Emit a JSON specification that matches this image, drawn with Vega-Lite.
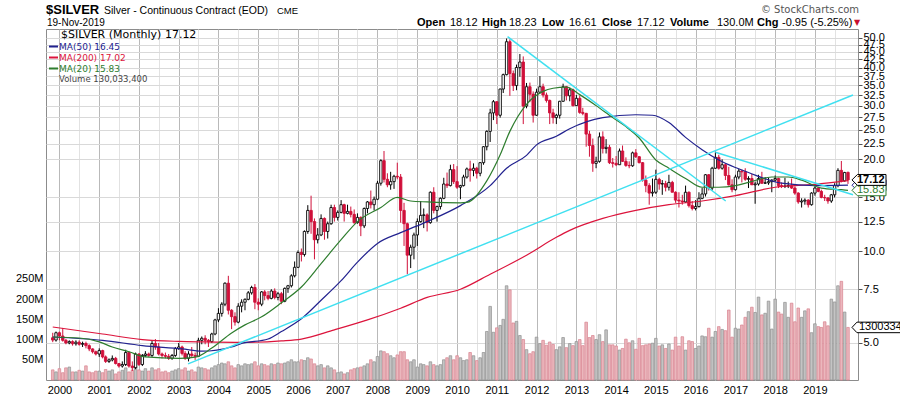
{
"$schema":"https://vega.github.io/schema/vega-lite/v6.json",
"width":812,"height":351,"autosize":{"type":"none"},
"padding":{"left":46,"top":29,"right":42,"bottom":16},
"background":"white",
"config":{"view":{"stroke":"#8c8c8c","strokeWidth":1},"font":"Liberation Sans"},
"datasets":{
"px":[
{"d":"1999-11","o":5.2,"h":5.4,"l":5.03,"c":5.11,"v":25},
{"d":"1999-12","o":5.11,"h":5.45,"l":5.05,"c":5.4,"v":20},
{"d":"2000-01","o":5.4,"h":5.45,"l":5.1,"c":5.27,"v":28},
{"d":"2000-02","o":5.27,"h":5.6,"l":5.05,"c":5.1,"v":18},
{"d":"2000-03","o":5.1,"h":5.15,"l":4.95,"c":5.0,"v":30},
{"d":"2000-04","o":5.0,"h":5.1,"l":4.95,"c":5.05,"v":32},
{"d":"2000-05","o":5.05,"h":5.1,"l":4.9,"c":4.97,"v":20},
{"d":"2000-06","o":4.97,"h":5.1,"l":4.9,"c":5.03,"v":20},
{"d":"2000-07","o":5.03,"h":5.1,"l":4.9,"c":4.95,"v":24},
{"d":"2000-08","o":4.95,"h":5.05,"l":4.85,"c":4.98,"v":22},
{"d":"2000-09","o":4.98,"h":5.05,"l":4.8,"c":4.9,"v":35},
{"d":"2000-10","o":4.9,"h":4.95,"l":4.7,"c":4.78,"v":20},
{"d":"2000-11","o":4.78,"h":4.8,"l":4.62,"c":4.68,"v":18},
{"d":"2000-12","o":4.68,"h":4.72,"l":4.55,"c":4.6,"v":22},
{"d":"2001-01","o":4.6,"h":4.8,"l":4.5,"c":4.72,"v":22},
{"d":"2001-02","o":4.72,"h":4.75,"l":4.45,"c":4.5,"v":18},
{"d":"2001-03","o":4.5,"h":4.55,"l":4.3,"c":4.35,"v":26},
{"d":"2001-04","o":4.35,"h":4.45,"l":4.3,"c":4.4,"v":22},
{"d":"2001-05","o":4.4,"h":4.55,"l":4.35,"c":4.45,"v":25},
{"d":"2001-06","o":4.45,"h":4.5,"l":4.25,"c":4.28,"v":15},
{"d":"2001-07","o":4.28,"h":4.3,"l":4.15,"c":4.2,"v":20},
{"d":"2001-08","o":4.2,"h":4.35,"l":4.15,"c":4.25,"v":24},
{"d":"2001-09","o":4.25,"h":4.75,"l":4.2,"c":4.65,"v":30},
{"d":"2001-10","o":4.65,"h":4.7,"l":4.15,"c":4.2,"v":20},
{"d":"2001-11","o":4.2,"h":4.35,"l":4.05,"c":4.15,"v":24},
{"d":"2001-12","o":4.15,"h":4.65,"l":4.1,"c":4.6,"v":32},
{"d":"2002-01","o":4.6,"h":4.62,"l":4.2,"c":4.25,"v":25},
{"d":"2002-02","o":4.25,"h":4.6,"l":4.2,"c":4.55,"v":22},
{"d":"2002-03","o":4.55,"h":4.7,"l":4.5,"c":4.6,"v":28},
{"d":"2002-04","o":4.6,"h":4.65,"l":4.5,"c":4.55,"v":22},
{"d":"2002-05","o":4.55,"h":5.1,"l":4.5,"c":4.98,"v":30},
{"d":"2002-06","o":4.98,"h":5.15,"l":4.75,"c":4.85,"v":25},
{"d":"2002-07","o":4.85,"h":5.0,"l":4.55,"c":4.6,"v":28},
{"d":"2002-08","o":4.6,"h":4.65,"l":4.45,"c":4.55,"v":20},
{"d":"2002-09","o":4.55,"h":4.65,"l":4.45,"c":4.52,"v":22},
{"d":"2002-10","o":4.52,"h":4.6,"l":4.4,"c":4.45,"v":18},
{"d":"2002-11","o":4.45,"h":4.6,"l":4.4,"c":4.55,"v":22},
{"d":"2002-12","o":4.55,"h":4.85,"l":4.5,"c":4.79,"v":25},
{"d":"2003-01","o":4.79,"h":5.0,"l":4.75,"c":4.85,"v":28},
{"d":"2003-02","o":4.85,"h":4.9,"l":4.55,"c":4.62,"v":25},
{"d":"2003-03","o":4.62,"h":4.7,"l":4.4,"c":4.45,"v":30},
{"d":"2003-04","o":4.45,"h":4.7,"l":4.35,"c":4.6,"v":22},
{"d":"2003-05","o":4.6,"h":4.85,"l":4.5,"c":4.55,"v":25},
{"d":"2003-06","o":4.55,"h":4.65,"l":4.4,"c":4.52,"v":20},
{"d":"2003-07","o":4.52,"h":5.2,"l":4.5,"c":5.1,"v":32},
{"d":"2003-08","o":5.1,"h":5.25,"l":4.95,"c":5.18,"v":30},
{"d":"2003-09","o":5.18,"h":5.3,"l":4.95,"c":5.1,"v":28},
{"d":"2003-10","o":5.1,"h":5.15,"l":4.85,"c":5.05,"v":25},
{"d":"2003-11","o":5.05,"h":5.4,"l":5.0,"c":5.35,"v":30},
{"d":"2003-12","o":5.35,"h":6.0,"l":5.3,"c":5.95,"v":35},
{"d":"2004-01","o":5.95,"h":6.5,"l":5.85,"c":6.25,"v":38},
{"d":"2004-02","o":6.25,"h":6.8,"l":6.1,"c":6.7,"v":42},
{"d":"2004-03","o":6.7,"h":7.9,"l":6.6,"c":7.85,"v":40},
{"d":"2004-04","o":7.85,"h":8.3,"l":6.2,"c":6.4,"v":45},
{"d":"2004-05","o":6.4,"h":6.45,"l":5.55,"c":6.1,"v":35},
{"d":"2004-06","o":6.1,"h":6.3,"l":5.7,"c":5.85,"v":30},
{"d":"2004-07","o":5.85,"h":6.75,"l":5.8,"c":6.6,"v":38},
{"d":"2004-08","o":6.6,"h":6.95,"l":6.3,"c":6.8,"v":35},
{"d":"2004-09","o":6.8,"h":7.0,"l":6.4,"c":6.95,"v":40},
{"d":"2004-10","o":6.95,"h":7.4,"l":6.9,"c":7.3,"v":38},
{"d":"2004-11","o":7.3,"h":7.7,"l":7.2,"c":7.6,"v":40},
{"d":"2004-12","o":7.6,"h":7.8,"l":6.45,"c":6.8,"v":45},
{"d":"2005-01","o":6.8,"h":7.0,"l":6.4,"c":6.7,"v":35},
{"d":"2005-02","o":6.7,"h":7.4,"l":6.6,"c":7.35,"v":40},
{"d":"2005-03","o":7.35,"h":7.45,"l":6.9,"c":7.15,"v":38},
{"d":"2005-04","o":7.15,"h":7.4,"l":6.9,"c":7.0,"v":35},
{"d":"2005-05","o":7.0,"h":7.5,"l":6.95,"c":7.4,"v":40},
{"d":"2005-06","o":7.4,"h":7.55,"l":6.95,"c":7.05,"v":38},
{"d":"2005-07","o":7.05,"h":7.35,"l":6.9,"c":7.25,"v":42},
{"d":"2005-08","o":7.25,"h":7.35,"l":6.7,"c":6.85,"v":40},
{"d":"2005-09","o":6.85,"h":7.6,"l":6.8,"c":7.55,"v":42},
{"d":"2005-10","o":7.55,"h":7.75,"l":7.3,"c":7.7,"v":45},
{"d":"2005-11","o":7.7,"h":8.4,"l":7.6,"c":8.3,"v":50},
{"d":"2005-12","o":8.3,"h":9.25,"l":8.2,"c":8.85,"v":45},
{"d":"2006-01","o":8.85,"h":10.05,"l":8.8,"c":9.9,"v":45},
{"d":"2006-02","o":9.9,"h":10.2,"l":9.25,"c":9.75,"v":50},
{"d":"2006-03","o":9.75,"h":11.7,"l":9.6,"c":11.6,"v":48},
{"d":"2006-04","o":11.6,"h":14.15,"l":11.4,"c":13.6,"v":55},
{"d":"2006-05","o":13.6,"h":15.2,"l":11.4,"c":12.5,"v":52},
{"d":"2006-06","o":12.5,"h":12.8,"l":9.4,"c":10.9,"v":40},
{"d":"2006-07","o":10.9,"h":11.9,"l":10.6,"c":11.3,"v":35},
{"d":"2006-08","o":11.3,"h":13.2,"l":11.2,"c":12.8,"v":38},
{"d":"2006-09","o":12.8,"h":12.9,"l":10.9,"c":11.6,"v":30},
{"d":"2006-10","o":11.6,"h":12.5,"l":11.0,"c":12.3,"v":35},
{"d":"2006-11","o":12.3,"h":14.2,"l":12.2,"c":13.9,"v":30},
{"d":"2006-12","o":13.9,"h":14.2,"l":12.5,"c":12.9,"v":25},
{"d":"2007-01","o":12.9,"h":13.6,"l":12.6,"c":13.4,"v":18},
{"d":"2007-02","o":13.4,"h":14.7,"l":13.3,"c":14.2,"v":20},
{"d":"2007-03","o":14.2,"h":14.3,"l":12.5,"c":13.3,"v":15},
{"d":"2007-04","o":13.3,"h":14.2,"l":13.2,"c":13.5,"v":18},
{"d":"2007-05","o":13.5,"h":14.0,"l":12.9,"c":13.2,"v":25},
{"d":"2007-06","o":13.2,"h":13.7,"l":12.3,"c":12.4,"v":28},
{"d":"2007-07","o":12.4,"h":13.3,"l":12.3,"c":12.9,"v":30},
{"d":"2007-08","o":12.9,"h":13.0,"l":11.2,"c":12.1,"v":32},
{"d":"2007-09","o":12.1,"h":13.9,"l":11.9,"c":13.8,"v":35},
{"d":"2007-10","o":13.8,"h":14.6,"l":13.3,"c":14.5,"v":40},
{"d":"2007-11","o":14.5,"h":15.8,"l":13.8,"c":14.2,"v":50},
{"d":"2007-12","o":14.2,"h":15.1,"l":13.6,"c":14.8,"v":45},
{"d":"2008-01","o":14.8,"h":17.0,"l":14.7,"c":16.7,"v":58},
{"d":"2008-02","o":16.7,"h":20.0,"l":16.4,"c":19.8,"v":72},
{"d":"2008-03","o":19.8,"h":21.3,"l":16.8,"c":17.2,"v":70},
{"d":"2008-04","o":17.2,"h":18.0,"l":16.2,"c":16.5,"v":65},
{"d":"2008-05","o":16.5,"h":18.2,"l":15.9,"c":16.9,"v":60},
{"d":"2008-06","o":16.9,"h":17.8,"l":16.0,"c":17.6,"v":55},
{"d":"2008-07","o":17.6,"h":19.5,"l":17.2,"c":17.5,"v":62},
{"d":"2008-08","o":17.5,"h":17.9,"l":12.4,"c":13.6,"v":70},
{"d":"2008-09","o":13.6,"h":14.4,"l":10.4,"c":12.3,"v":70},
{"d":"2008-10","o":12.3,"h":12.4,"l":8.4,"c":9.7,"v":50},
{"d":"2008-11","o":9.7,"h":10.5,"l":8.8,"c":10.3,"v":45},
{"d":"2008-12","o":10.3,"h":11.5,"l":9.4,"c":11.3,"v":50},
{"d":"2009-01","o":11.3,"h":12.8,"l":10.4,"c":12.5,"v":32},
{"d":"2009-02","o":12.5,"h":14.6,"l":12.4,"c":13.1,"v":40},
{"d":"2009-03","o":13.1,"h":13.8,"l":11.9,"c":13.15,"v":38},
{"d":"2009-04","o":13.15,"h":13.3,"l":11.6,"c":12.4,"v":35},
{"d":"2009-05","o":12.4,"h":15.7,"l":12.3,"c":15.6,"v":45},
{"d":"2009-06","o":15.6,"h":16.2,"l":13.3,"c":13.6,"v":38},
{"d":"2009-07","o":13.6,"h":14.1,"l":12.5,"c":14.0,"v":35},
{"d":"2009-08","o":14.0,"h":15.0,"l":13.7,"c":14.9,"v":38},
{"d":"2009-09","o":14.9,"h":17.4,"l":14.8,"c":16.6,"v":50},
{"d":"2009-10","o":16.6,"h":18.1,"l":16.1,"c":16.4,"v":55},
{"d":"2009-11","o":16.4,"h":19.2,"l":16.3,"c":18.5,"v":60},
{"d":"2009-12","o":18.5,"h":19.3,"l":16.6,"c":16.9,"v":50},
{"d":"2010-01","o":16.9,"h":19.0,"l":16.0,"c":16.2,"v":60},
{"d":"2010-02","o":16.2,"h":16.5,"l":14.8,"c":16.4,"v":55},
{"d":"2010-03","o":16.4,"h":17.8,"l":16.3,"c":17.5,"v":48},
{"d":"2010-04","o":17.5,"h":18.8,"l":17.3,"c":18.6,"v":50},
{"d":"2010-05","o":18.6,"h":19.8,"l":16.9,"c":18.4,"v":68},
{"d":"2010-06","o":18.4,"h":19.4,"l":17.6,"c":18.7,"v":60},
{"d":"2010-07","o":18.7,"h":18.9,"l":17.3,"c":18.0,"v":48},
{"d":"2010-08","o":18.0,"h":19.6,"l":17.6,"c":19.5,"v":55},
{"d":"2010-09","o":19.5,"h":22.1,"l":19.2,"c":22.0,"v":68},
{"d":"2010-10","o":22.0,"h":24.9,"l":21.4,"c":24.7,"v":120},
{"d":"2010-11","o":24.7,"h":29.3,"l":22.8,"c":28.4,"v":182},
{"d":"2010-12","o":28.4,"h":31.3,"l":26.9,"c":30.9,"v":118},
{"d":"2011-01","o":30.9,"h":31.0,"l":26.1,"c":27.9,"v":129},
{"d":"2011-02","o":27.9,"h":34.1,"l":27.4,"c":34.0,"v":135},
{"d":"2011-03","o":34.0,"h":38.2,"l":33.0,"c":37.9,"v":150},
{"d":"2011-04","o":37.9,"h":49.8,"l":37.7,"c":48.6,"v":233},
{"d":"2011-05","o":48.6,"h":49.5,"l":32.3,"c":38.2,"v":223},
{"d":"2011-06","o":38.2,"h":39.1,"l":33.5,"c":34.9,"v":141},
{"d":"2011-07","o":34.9,"h":40.9,"l":33.7,"c":40.0,"v":145},
{"d":"2011-08","o":40.0,"h":44.3,"l":37.3,"c":41.7,"v":110},
{"d":"2011-09","o":41.7,"h":43.5,"l":26.1,"c":29.9,"v":100},
{"d":"2011-10","o":29.9,"h":35.6,"l":29.4,"c":34.6,"v":75},
{"d":"2011-11","o":34.6,"h":35.7,"l":30.8,"c":32.7,"v":65},
{"d":"2011-12","o":32.7,"h":33.4,"l":26.4,"c":27.9,"v":70},
{"d":"2012-01","o":27.9,"h":34.1,"l":27.8,"c":33.2,"v":106},
{"d":"2012-02","o":33.2,"h":37.5,"l":32.9,"c":34.6,"v":90},
{"d":"2012-03","o":34.6,"h":35.4,"l":31.9,"c":32.5,"v":98},
{"d":"2012-04","o":32.5,"h":33.1,"l":30.7,"c":31.2,"v":86},
{"d":"2012-05","o":31.2,"h":31.4,"l":26.1,"c":28.4,"v":94},
{"d":"2012-06","o":28.4,"h":29.3,"l":26.2,"c":27.4,"v":88},
{"d":"2012-07","o":27.4,"h":28.2,"l":26.1,"c":27.9,"v":75},
{"d":"2012-08","o":27.9,"h":31.1,"l":27.2,"c":31.0,"v":82},
{"d":"2012-09","o":31.0,"h":35.4,"l":30.9,"c":34.6,"v":105},
{"d":"2012-10","o":34.6,"h":34.8,"l":31.2,"c":32.3,"v":80},
{"d":"2012-11","o":32.3,"h":34.4,"l":31.0,"c":33.8,"v":90},
{"d":"2012-12","o":33.8,"h":34.1,"l":29.8,"c":30.0,"v":85},
{"d":"2013-01","o":30.0,"h":32.5,"l":29.9,"c":31.7,"v":95},
{"d":"2013-02","o":31.7,"h":32.4,"l":28.2,"c":28.5,"v":100},
{"d":"2013-03","o":28.5,"h":29.5,"l":27.9,"c":28.3,"v":85},
{"d":"2013-04","o":28.3,"h":28.4,"l":22.0,"c":24.2,"v":143},
{"d":"2013-05","o":24.2,"h":24.8,"l":20.4,"c":22.2,"v":105},
{"d":"2013-06","o":22.2,"h":23.4,"l":18.2,"c":19.4,"v":110},
{"d":"2013-07","o":19.4,"h":20.4,"l":18.7,"c":19.7,"v":100},
{"d":"2013-08","o":19.7,"h":24.5,"l":19.5,"c":23.7,"v":112},
{"d":"2013-09","o":23.7,"h":24.7,"l":20.9,"c":21.7,"v":95},
{"d":"2013-10","o":21.7,"h":23.3,"l":20.9,"c":21.9,"v":124},
{"d":"2013-11","o":21.9,"h":22.3,"l":19.3,"c":19.5,"v":87},
{"d":"2013-12","o":19.5,"h":20.2,"l":18.8,"c":19.4,"v":87},
{"d":"2014-01","o":19.4,"h":20.5,"l":19.0,"c":19.2,"v":84},
{"d":"2014-02","o":19.2,"h":21.7,"l":19.2,"c":21.3,"v":74},
{"d":"2014-03","o":21.3,"h":22.2,"l":19.6,"c":19.7,"v":78},
{"d":"2014-04","o":19.7,"h":20.3,"l":18.9,"c":19.1,"v":101},
{"d":"2014-05","o":19.1,"h":19.7,"l":18.7,"c":19.05,"v":92},
{"d":"2014-06","o":19.05,"h":21.2,"l":18.9,"c":21.0,"v":97},
{"d":"2014-07","o":21.0,"h":21.6,"l":20.2,"c":20.4,"v":76},
{"d":"2014-08","o":20.4,"h":20.5,"l":19.4,"c":19.5,"v":103},
{"d":"2014-09","o":19.5,"h":19.6,"l":16.9,"c":17.1,"v":85},
{"d":"2014-10","o":17.1,"h":17.7,"l":15.6,"c":16.4,"v":87},
{"d":"2014-11","o":16.4,"h":16.7,"l":14.2,"c":15.5,"v":89},
{"d":"2014-12","o":15.5,"h":17.3,"l":15.1,"c":15.6,"v":91},
{"d":"2015-01","o":15.6,"h":18.5,"l":15.4,"c":17.2,"v":103},
{"d":"2015-02","o":17.2,"h":17.4,"l":15.9,"c":16.6,"v":84},
{"d":"2015-03","o":16.6,"h":17.1,"l":15.3,"c":16.65,"v":87},
{"d":"2015-04","o":16.65,"h":17.0,"l":15.7,"c":16.2,"v":78},
{"d":"2015-05","o":16.2,"h":17.8,"l":15.8,"c":16.8,"v":89},
{"d":"2015-06","o":16.8,"h":17.0,"l":15.6,"c":15.6,"v":74},
{"d":"2015-07","o":15.6,"h":15.7,"l":14.4,"c":14.7,"v":106},
{"d":"2015-08","o":14.7,"h":15.6,"l":13.9,"c":14.6,"v":84},
{"d":"2015-09","o":14.6,"h":15.3,"l":14.2,"c":14.5,"v":107},
{"d":"2015-10","o":14.5,"h":16.4,"l":14.4,"c":15.6,"v":74},
{"d":"2015-11","o":15.6,"h":15.7,"l":13.9,"c":14.1,"v":97},
{"d":"2015-12","o":14.1,"h":14.6,"l":13.6,"c":13.8,"v":95},
{"d":"2016-01","o":13.8,"h":14.7,"l":13.6,"c":14.0,"v":78},
{"d":"2016-02","o":14.0,"h":15.6,"l":13.9,"c":14.9,"v":84},
{"d":"2016-03","o":14.9,"h":16.1,"l":14.8,"c":15.4,"v":109},
{"d":"2016-04","o":15.4,"h":17.9,"l":15.1,"c":17.8,"v":107},
{"d":"2016-05","o":17.8,"h":17.9,"l":15.8,"c":16.1,"v":128},
{"d":"2016-06","o":16.1,"h":18.9,"l":15.8,"c":18.7,"v":106},
{"d":"2016-07","o":18.7,"h":21.2,"l":18.6,"c":20.3,"v":120},
{"d":"2016-08","o":20.3,"h":20.7,"l":18.5,"c":18.7,"v":132},
{"d":"2016-09","o":18.7,"h":20.0,"l":18.5,"c":19.2,"v":125},
{"d":"2016-10","o":19.2,"h":19.4,"l":17.1,"c":17.7,"v":122},
{"d":"2016-11","o":17.7,"h":18.9,"l":16.4,"c":16.5,"v":173},
{"d":"2016-12","o":16.5,"h":17.2,"l":15.6,"c":15.9,"v":106},
{"d":"2017-01","o":15.9,"h":17.8,"l":15.8,"c":17.5,"v":128},
{"d":"2017-02","o":17.5,"h":18.6,"l":17.2,"c":18.3,"v":126},
{"d":"2017-03","o":18.3,"h":18.5,"l":16.8,"c":18.2,"v":136},
{"d":"2017-04","o":18.2,"h":18.7,"l":17.0,"c":17.2,"v":155},
{"d":"2017-05","o":17.2,"h":17.6,"l":16.1,"c":17.3,"v":169},
{"d":"2017-06","o":17.3,"h":17.9,"l":16.5,"c":16.5,"v":180},
{"d":"2017-07","o":16.5,"h":16.9,"l":14.3,"c":16.6,"v":167},
{"d":"2017-08","o":16.6,"h":17.8,"l":16.4,"c":17.3,"v":205},
{"d":"2017-09","o":17.3,"h":18.2,"l":16.6,"c":16.7,"v":161},
{"d":"2017-10","o":16.7,"h":17.5,"l":16.6,"c":16.75,"v":165},
{"d":"2017-11","o":16.75,"h":17.4,"l":16.5,"c":16.9,"v":195},
{"d":"2017-12","o":16.9,"h":17.2,"l":15.6,"c":17.1,"v":126},
{"d":"2018-01","o":17.1,"h":17.7,"l":16.9,"c":17.3,"v":200},
{"d":"2018-02","o":17.3,"h":17.4,"l":16.1,"c":16.4,"v":168},
{"d":"2018-03","o":16.4,"h":16.8,"l":16.1,"c":16.3,"v":163},
{"d":"2018-04","o":16.3,"h":17.4,"l":16.1,"c":16.35,"v":192},
{"d":"2018-05","o":16.35,"h":16.9,"l":16.1,"c":16.4,"v":155},
{"d":"2018-06","o":16.4,"h":17.3,"l":16.0,"c":16.1,"v":190},
{"d":"2018-07","o":16.1,"h":16.3,"l":15.3,"c":15.5,"v":144},
{"d":"2018-08","o":15.5,"h":15.6,"l":14.3,"c":14.5,"v":178},
{"d":"2018-09","o":14.5,"h":14.9,"l":13.9,"c":14.6,"v":155},
{"d":"2018-10","o":14.6,"h":14.9,"l":14.2,"c":14.7,"v":171},
{"d":"2018-11","o":14.7,"h":14.8,"l":13.9,"c":14.2,"v":176},
{"d":"2018-12","o":14.2,"h":15.6,"l":14.1,"c":15.5,"v":117},
{"d":"2019-01","o":15.5,"h":16.3,"l":15.2,"c":16.1,"v":139},
{"d":"2019-02","o":16.1,"h":16.2,"l":15.6,"c":15.7,"v":132},
{"d":"2019-03","o":15.7,"h":15.9,"l":14.9,"c":15.0,"v":130},
{"d":"2019-04","o":15.0,"h":15.3,"l":14.6,"c":14.95,"v":144},
{"d":"2019-05","o":14.95,"h":15.0,"l":14.3,"c":14.6,"v":134},
{"d":"2019-06","o":14.6,"h":15.4,"l":14.4,"c":15.3,"v":200},
{"d":"2019-07","o":15.3,"h":16.7,"l":15.0,"c":16.4,"v":193},
{"d":"2019-08","o":16.4,"h":18.7,"l":16.2,"c":18.4,"v":233},
{"d":"2019-09","o":18.4,"h":19.75,"l":16.8,"c":17.0,"v":244},
{"d":"2019-10","o":17.0,"h":18.2,"l":16.9,"c":18.1,"v":168},
{"d":"2019-11","o":18.12,"h":18.23,"l":16.61,"c":17.12,"v":130.03}
],
"ma":[
{"d":"1999-11","s":"MA(200)","p":5.64},{"d":"2001-02","s":"MA(200)","p":5.35},{"d":"2002-02","s":"MA(200)","p":5.13},{"d":"2003-01","s":"MA(200)","p":5.06},{"d":"2003-08","s":"MA(200)","p":5.04},{"d":"2004-08","s":"MA(200)","p":5.02},{"d":"2005-08","s":"MA(200)","p":5.08},{"d":"2006-02","s":"MA(200)","p":5.15},{"d":"2006-12","s":"MA(200)","p":5.52},{"d":"2007-10","s":"MA(200)","p":5.95},{"d":"2008-08","s":"MA(200)","p":6.5},{"d":"2009-04","s":"MA(200)","p":7.05},{"d":"2010-02","s":"MA(200)","p":7.5},{"d":"2010-11","s":"MA(200)","p":8.4},{"d":"2011-10","s":"MA(200)","p":9.7},{"d":"2012-07","s":"MA(200)","p":11.1},{"d":"2012-11","s":"MA(200)","p":11.7},{"d":"2013-09","s":"MA(200)","p":12.8},{"d":"2014-07","s":"MA(200)","p":13.6},{"d":"2015-05","s":"MA(200)","p":14.2},{"d":"2016-03","s":"MA(200)","p":14.6},{"d":"2017-01","s":"MA(200)","p":15.2},{"d":"2018-01","s":"MA(200)","p":16.2},{"d":"2019-01","s":"MA(200)","p":16.55},{"d":"2019-11","s":"MA(200)","p":17.02},
{"d":"1999-11","s":"MA(50)","p":5.23},{"d":"2001-02","s":"MA(50)","p":5.1},{"d":"2002-02","s":"MA(50)","p":4.9},{"d":"2003-02","s":"MA(50)","p":4.78},{"d":"2003-08","s":"MA(50)","p":4.7},{"d":"2004-05","s":"MA(50)","p":4.85},{"d":"2004-08","s":"MA(50)","p":4.98},{"d":"2005-04","s":"MA(50)","p":5.15},{"d":"2005-08","s":"MA(50)","p":5.45},{"d":"2006-02","s":"MA(50)","p":6.0},{"d":"2006-08","s":"MA(50)","p":6.9},{"d":"2007-02","s":"MA(50)","p":8.0},{"d":"2007-07","s":"MA(50)","p":9.2},{"d":"2008-01","s":"MA(50)","p":10.6},{"d":"2008-08","s":"MA(50)","p":11.5},{"d":"2009-04","s":"MA(50)","p":12.5},{"d":"2010-02","s":"MA(50)","p":14.1},{"d":"2010-11","s":"MA(50)","p":16.4},{"d":"2011-04","s":"MA(50)","p":18.7},{"d":"2011-10","s":"MA(50)","p":20.6},{"d":"2012-01","s":"MA(50)","p":22.3},{"d":"2012-07","s":"MA(50)","p":23.8},{"d":"2012-11","s":"MA(50)","p":25.2},{"d":"2013-09","s":"MA(50)","p":27.4},{"d":"2014-07","s":"MA(50)","p":28.0},{"d":"2014-12","s":"MA(50)","p":27.9},{"d":"2015-05","s":"MA(50)","p":26.4},{"d":"2015-10","s":"MA(50)","p":23.6},{"d":"2016-03","s":"MA(50)","p":21.5},{"d":"2016-08","s":"MA(50)","p":19.9},{"d":"2017-01","s":"MA(50)","p":18.8},{"d":"2017-05","s":"MA(50)","p":18.1},{"d":"2018-03","s":"MA(50)","p":16.7},{"d":"2019-01","s":"MA(50)","p":16.4},{"d":"2019-11","s":"MA(50)","p":16.45},
{"d":"1999-11","s":"MA(20)","p":5.23},{"d":"2000-07","s":"MA(20)","p":5.19},{"d":"2001-01","s":"MA(20)","p":5.04},{"d":"2001-05","s":"MA(20)","p":4.85},{"d":"2001-10","s":"MA(20)","p":4.68},{"d":"2002-03","s":"MA(20)","p":4.5},{"d":"2003-01","s":"MA(20)","p":4.45},{"d":"2003-06","s":"MA(20)","p":4.49},{"d":"2003-11","s":"MA(20)","p":4.81},{"d":"2004-05","s":"MA(20)","p":5.39},{"d":"2004-09","s":"MA(20)","p":5.73},{"d":"2005-02","s":"MA(20)","p":6.09},{"d":"2005-08","s":"MA(20)","p":6.77},{"d":"2006-02","s":"MA(20)","p":7.63},{"d":"2006-08","s":"MA(20)","p":9.1},{"d":"2007-02","s":"MA(20)","p":10.9},{"d":"2007-07","s":"MA(20)","p":12.5},{"d":"2008-02","s":"MA(20)","p":13.9},{"d":"2008-07","s":"MA(20)","p":15.0},{"d":"2008-11","s":"MA(20)","p":14.6},{"d":"2009-04","s":"MA(20)","p":14.5},{"d":"2010-02","s":"MA(20)","p":14.4},{"d":"2010-04","s":"MA(20)","p":14.45},{"d":"2010-10","s":"MA(20)","p":17.0},{"d":"2011-02","s":"MA(20)","p":20.7},{"d":"2011-05","s":"MA(20)","p":24.7},{"d":"2011-10","s":"MA(20)","p":30.3},{"d":"2012-03","s":"MA(20)","p":33.4},{"d":"2012-06","s":"MA(20)","p":34.2},{"d":"2012-10","s":"MA(20)","p":34.5},{"d":"2013-02","s":"MA(20)","p":32.6},{"d":"2013-07","s":"MA(20)","p":30.0},{"d":"2013-12","s":"MA(20)","p":27.4},{"d":"2014-04","s":"MA(20)","p":25.6},{"d":"2014-08","s":"MA(20)","p":23.5},{"d":"2015-01","s":"MA(20)","p":19.9},{"d":"2015-05","s":"MA(20)","p":18.7},{"d":"2015-10","s":"MA(20)","p":17.3},{"d":"2016-03","s":"MA(20)","p":16.2},{"d":"2016-08","s":"MA(20)","p":16.2},{"d":"2017-01","s":"MA(20)","p":16.4},{"d":"2017-05","s":"MA(20)","p":16.8},{"d":"2017-12","s":"MA(20)","p":17.5},{"d":"2018-05","s":"MA(20)","p":17.5},{"d":"2018-09","s":"MA(20)","p":17.1},{"d":"2019-03","s":"MA(20)","p":16.1},{"d":"2019-09","s":"MA(20)","p":15.9},{"d":"2019-11","s":"MA(20)","p":15.83}
],
"tr":[
{"g":1,"d":"2003-03-28","p":4.27},{"g":1,"d":"2019-12-17","p":32.5},
{"g":2,"d":"2011-04-10","p":50.5},{"g":2,"d":"2016-10-04","p":14.6},
{"g":3,"d":"2016-07-01","p":21.1},{"g":3,"d":"2019-12-17","p":15.3}
],
"tg":[
{"d":"2019-11","p":16.45,"s":"MA(50)","t":"16.45"},
{"d":"2019-11","p":15.83,"s":"MA(20)","t":"15.83"},
{"d":"2019-11","p":17.12,"s":"$SILVER","t":"17.12"}
],
"vt":[{"d":"2019-11","v":130.0334,"t":"130033400"}],
"one":[{}]
},
"resolve":{"scale":{"y":"independent"},"axis":{"x":"independent","y":"independent"}},
"layer":[
 {"data":{"name":"px"},"mark":{"type":"bar","size":2.6,"strokeWidth":0.7},
  "encoding":{
   "x":{"field":"d","type":"temporal","scale":{"type":"utc","domain":[{"year":1999,"month":10,"date":16,"utc":true},{"year":2019,"month":12,"date":17,"utc":true}]},
     "axis":{"orient":"top","values":[{"year":2000,"month":7,"date":1,"utc":true},{"year":2001,"month":7,"date":1,"utc":true},{"year":2002,"month":7,"date":1,"utc":true},{"year":2003,"month":7,"date":1,"utc":true},{"year":2004,"month":7,"date":1,"utc":true},{"year":2005,"month":7,"date":1,"utc":true},{"year":2006,"month":7,"date":1,"utc":true},{"year":2007,"month":7,"date":1,"utc":true},{"year":2008,"month":7,"date":1,"utc":true},{"year":2009,"month":7,"date":1,"utc":true},{"year":2010,"month":7,"date":1,"utc":true},{"year":2011,"month":7,"date":1,"utc":true},{"year":2012,"month":7,"date":1,"utc":true},{"year":2013,"month":7,"date":1,"utc":true},{"year":2014,"month":7,"date":1,"utc":true},{"year":2015,"month":7,"date":1,"utc":true},{"year":2016,"month":7,"date":1,"utc":true},{"year":2017,"month":7,"date":1,"utc":true},{"year":2018,"month":7,"date":1,"utc":true},{"year":2019,"month":7,"date":1,"utc":true}],"labels":false,"ticks":false,"domain":false,"grid":true,"gridColor":"#e2e2e2","title":null}},
   "y":{"field":"v","type":"quantitative","scale":{"domain":[0,868],"nice":false},
     "axis":{"orient":"left","values":[50,100,150,200,250],"labelExpr":"datum.value + 'M'","title":null,"grid":false,"domain":false,"ticks":false,"labelPadding":3,"labelFontSize":11,"labelFont":"Liberation Sans","labelColor":"#000"}},
   "fill":{"condition":{"test":"datum.c >= datum.o","value":"#c4c4c4"},"value":"#ebb7bd"},
   "stroke":{"condition":{"test":"datum.c >= datum.o","value":"#8f8f8f"},"value":"#d8838f"}
  }},
 {"data":{"name":"px"},"mark":{"type":"rule","strokeWidth":1},
  "encoding":{
   "x":{"field":"d","type":"temporal","scale":{"type":"utc","domain":[{"year":1999,"month":10,"date":16,"utc":true},{"year":2019,"month":12,"date":17,"utc":true}]},
     "axis":{"orient":"bottom","values":[{"year":2000,"month":1,"date":1,"utc":true},{"year":2001,"month":1,"date":1,"utc":true},{"year":2002,"month":1,"date":1,"utc":true},{"year":2003,"month":1,"date":1,"utc":true},{"year":2004,"month":1,"date":1,"utc":true},{"year":2005,"month":1,"date":1,"utc":true},{"year":2006,"month":1,"date":1,"utc":true},{"year":2007,"month":1,"date":1,"utc":true},{"year":2008,"month":1,"date":1,"utc":true},{"year":2009,"month":1,"date":1,"utc":true},{"year":2010,"month":1,"date":1,"utc":true},{"year":2011,"month":1,"date":1,"utc":true},{"year":2012,"month":1,"date":1,"utc":true},{"year":2013,"month":1,"date":1,"utc":true},{"year":2014,"month":1,"date":1,"utc":true},{"year":2015,"month":1,"date":1,"utc":true},{"year":2016,"month":1,"date":1,"utc":true},{"year":2017,"month":1,"date":1,"utc":true},{"year":2018,"month":1,"date":1,"utc":true},{"year":2019,"month":1,"date":1,"utc":true}],"format":"%Y","grid":true,"gridColor":"#b9b9b9","ticks":false,"domain":false,"labelPadding":4,"labelFontSize":11,"labelFont":"Liberation Sans","labelColor":"#000","labelFlush":false,"labelOverlap":false,"title":null}},
   "y":{"field":"l","type":"quantitative","scale":{"type":"log","domain":[3.78,53.5],"nice":false},
     "axis":{"orient":"right","values":[5,7.5,10,12.5,15,20,22.5,25,27.5,30,32.5,35,37.5,40,42.5,45,47.5,50],"format":".1f","title":null,"grid":true,"gridColor":"#d9d9d9","domain":false,"tickSize":4,"tickColor":"#555","labelPadding":1,"labelFontSize":11,"labelFont":"Liberation Sans","labelColor":"#000","labelOverlap":false,"labelBound":false}},
   "y2":{"field":"h"},
   "color":{"condition":{"test":"datum.c >= datum.o","value":"#000000"},"value":"#d0103a"}
  }},
 {"data":{"name":"px"},"mark":{"type":"bar","size":2.4,"strokeWidth":0.9},
  "encoding":{
   "x":{"field":"d","type":"temporal","scale":{"type":"utc","domain":[{"year":1999,"month":10,"date":16,"utc":true},{"year":2019,"month":12,"date":17,"utc":true}]},"axis":null},
   "y":{"field":"o","type":"quantitative","scale":{"type":"log","domain":[3.78,53.5],"nice":false},"axis":null},
   "y2":{"field":"c"},
   "fill":{"condition":{"test":"datum.c >= datum.o","value":"#ffffff"},"value":"#d0103a"},
   "stroke":{"condition":{"test":"datum.c >= datum.o","value":"#000000"},"value":"#d0103a"}
  }},
 {"data":{"name":"ma"},"mark":{"type":"line","strokeWidth":1.2,"interpolate":"monotone"},
  "encoding":{
   "x":{"field":"d","type":"temporal","scale":{"type":"utc","domain":[{"year":1999,"month":10,"date":16,"utc":true},{"year":2019,"month":12,"date":17,"utc":true}]},"axis":null},
   "y":{"field":"p","type":"quantitative","scale":{"type":"log","domain":[3.78,53.5],"nice":false},"axis":null},
   "color":{"field":"s","type":"nominal","scale":{"domain":["MA(50)","MA(200)","MA(20)"],"range":["#22228f","#dc143c","#2e7d2e"]},"legend":null}
  }},
 {"data":{"name":"tr"},"mark":{"type":"line","strokeWidth":1.5,"color":"#40e0f0"},
  "encoding":{
   "x":{"field":"d","type":"temporal","scale":{"type":"utc","domain":[{"year":1999,"month":10,"date":16,"utc":true},{"year":2019,"month":12,"date":17,"utc":true}]},"axis":null},
   "y":{"field":"p","type":"quantitative","scale":{"type":"log","domain":[3.78,53.5],"nice":false},"axis":null},
   "detail":{"field":"g","type":"nominal"}
  }},
 {"data":{"name":"vt"},"mark":{"type":"point","shape":"M-1,0L-0.84,-0.17L1,-0.17L1,0.17L-0.84,0.17Z","size":3844,"filled":true,"fill":"#ffffff","stroke":"#000000","strokeWidth":1,"opacity":1,"xOffset":35},
  "encoding":{"x":{"field":"d","type":"temporal","scale":{"type":"utc","domain":[{"year":1999,"month":10,"date":16,"utc":true},{"year":2019,"month":12,"date":17,"utc":true}]},"axis":null},
   "y":{"field":"v","type":"quantitative","scale":{"domain":[0,868],"nice":false},"axis":null}}},
 {"data":{"name":"vt"},"mark":{"type":"text","align":"left","baseline":"middle","dx":11,"fontSize":11,"font":"Liberation Sans","color":"#000"},
  "encoding":{"x":{"field":"d","type":"temporal","scale":{"type":"utc","domain":[{"year":1999,"month":10,"date":16,"utc":true},{"year":2019,"month":12,"date":17,"utc":true}]},"axis":null},
   "y":{"field":"v","type":"quantitative","scale":{"domain":[0,868],"nice":false},"axis":null},"text":{"field":"t"}}},
 {"data":{"name":"tg"},"transform":[{"filter":"datum.s === 'MA(50)'"}],"mark":{"type":"point","shape":"M-1,0L-0.68,-0.32L1,-0.32L1,0.32L-0.68,0.32Z","size":1156,"filled":true,"fill":"#ffffff","stroke":"#22228f","strokeWidth":1,"opacity":1,"xOffset":21},
  "encoding":{"x":{"field":"d","type":"temporal","scale":{"type":"utc","domain":[{"year":1999,"month":10,"date":16,"utc":true},{"year":2019,"month":12,"date":17,"utc":true}]},"axis":null},"y":{"field":"p","type":"quantitative","scale":{"type":"log","domain":[3.78,53.5],"nice":false},"axis":null}}},
 {"data":{"name":"tg"},"transform":[{"filter":"datum.s === 'MA(50)'"}],"mark":{"type":"text","align":"left","baseline":"middle","dx":9,"fontSize":11,"font":"Liberation Sans","color":"#22228f"},
  "encoding":{"x":{"field":"d","type":"temporal","scale":{"type":"utc","domain":[{"year":1999,"month":10,"date":16,"utc":true},{"year":2019,"month":12,"date":17,"utc":true}]},"axis":null},"y":{"field":"p","type":"quantitative","scale":{"type":"log","domain":[3.78,53.5],"nice":false},"axis":null},"text":{"field":"t"}}},
 {"data":{"name":"tg"},"transform":[{"filter":"datum.s === 'MA(20)'"}],"mark":{"type":"point","shape":"M-1,0L-0.68,-0.32L1,-0.32L1,0.32L-0.68,0.32Z","size":1156,"filled":true,"fill":"#ffffff","stroke":"#2e7d2e","strokeWidth":1,"opacity":1,"xOffset":21},
  "encoding":{"x":{"field":"d","type":"temporal","scale":{"type":"utc","domain":[{"year":1999,"month":10,"date":16,"utc":true},{"year":2019,"month":12,"date":17,"utc":true}]},"axis":null},"y":{"field":"p","type":"quantitative","scale":{"type":"log","domain":[3.78,53.5],"nice":false},"axis":null}}},
 {"data":{"name":"tg"},"transform":[{"filter":"datum.s === 'MA(20)'"}],"mark":{"type":"text","align":"left","baseline":"middle","dx":9,"fontSize":11,"font":"Liberation Sans","color":"#2e7d2e"},
  "encoding":{"x":{"field":"d","type":"temporal","scale":{"type":"utc","domain":[{"year":1999,"month":10,"date":16,"utc":true},{"year":2019,"month":12,"date":17,"utc":true}]},"axis":null},"y":{"field":"p","type":"quantitative","scale":{"type":"log","domain":[3.78,53.5],"nice":false},"axis":null},"text":{"field":"t"}}},
 {"data":{"name":"tg"},"transform":[{"filter":"datum.s === '$SILVER'"}],"mark":{"type":"point","shape":"M-1,0L-0.68,-0.32L1,-0.32L1,0.32L-0.68,0.32Z","size":1156,"filled":true,"fill":"#ffffff","stroke":"#000000","strokeWidth":1,"opacity":1,"xOffset":21},
  "encoding":{"x":{"field":"d","type":"temporal","scale":{"type":"utc","domain":[{"year":1999,"month":10,"date":16,"utc":true},{"year":2019,"month":12,"date":17,"utc":true}]},"axis":null},"y":{"field":"p","type":"quantitative","scale":{"type":"log","domain":[3.78,53.5],"nice":false},"axis":null}}},
 {"data":{"name":"tg"},"transform":[{"filter":"datum.s === '$SILVER'"}],"mark":{"type":"text","align":"left","baseline":"middle","dx":9,"fontSize":11,"fontWeight":"bold","font":"Liberation Sans","color":"#000000"},
  "encoding":{"x":{"field":"d","type":"temporal","scale":{"type":"utc","domain":[{"year":1999,"month":10,"date":16,"utc":true},{"year":2019,"month":12,"date":17,"utc":true}]},"axis":null},"y":{"field":"p","type":"quantitative","scale":{"type":"log","domain":[3.78,53.5],"nice":false},"axis":null},"text":{"field":"t"}}},
{"data":{"name":"one"},"mark":{"type":"text","text":"$SILVER","fontSize":13,"fontWeight":"bold","font":"Liberation Sans","align":"left","baseline":"alphabetic","color":"#000"},"encoding":{"x":{"value":0},"y":{"value":-15}}},
{"data":{"name":"one"},"mark":{"type":"text","text":"Silver - Continuous Contract (EOD)","fontSize":10.5,"font":"Liberation Sans","align":"left","baseline":"alphabetic","color":"#000"},"encoding":{"x":{"value":58},"y":{"value":-15.5}}},
{"data":{"name":"one"},"mark":{"type":"text","text":"CME","fontSize":9.5,"font":"Liberation Sans","align":"left","baseline":"alphabetic","color":"#000"},"encoding":{"x":{"value":231},"y":{"value":-15.5}}},
{"data":{"name":"one"},"mark":{"type":"text","text":"19-Nov-2019","fontSize":10,"font":"Liberation Sans","align":"left","baseline":"alphabetic","color":"#000"},"encoding":{"x":{"value":1},"y":{"value":-3}}},
{"data":{"name":"one"},"mark":{"type":"text","text":"© StockCharts.com","fontSize":10,"font":"DejaVu Sans","align":"right","baseline":"alphabetic","color":"#555"},"encoding":{"x":{"value":813},"y":{"value":-16.5}}},
{"data":{"name":"one"},"mark":{"type":"text","text":"Open","fontSize":11,"fontWeight":"bold","font":"Liberation Sans","align":"left","baseline":"alphabetic","color":"#000"},"encoding":{"x":{"value":371},"y":{"value":-3.5}}},
{"data":{"name":"one"},"mark":{"type":"text","text":"18.12","fontSize":11,"font":"Liberation Sans","align":"left","baseline":"alphabetic","color":"#000"},"encoding":{"x":{"value":404},"y":{"value":-3.5}}},
{"data":{"name":"one"},"mark":{"type":"text","text":"High","fontSize":11,"fontWeight":"bold","font":"Liberation Sans","align":"left","baseline":"alphabetic","color":"#000"},"encoding":{"x":{"value":436},"y":{"value":-3.5}}},
{"data":{"name":"one"},"mark":{"type":"text","text":"18.23","fontSize":11,"font":"Liberation Sans","align":"left","baseline":"alphabetic","color":"#000"},"encoding":{"x":{"value":463},"y":{"value":-3.5}}},
{"data":{"name":"one"},"mark":{"type":"text","text":"Low","fontSize":11,"fontWeight":"bold","font":"Liberation Sans","align":"left","baseline":"alphabetic","color":"#000"},"encoding":{"x":{"value":496},"y":{"value":-3.5}}},
{"data":{"name":"one"},"mark":{"type":"text","text":"16.61","fontSize":11,"font":"Liberation Sans","align":"left","baseline":"alphabetic","color":"#000"},"encoding":{"x":{"value":523},"y":{"value":-3.5}}},
{"data":{"name":"one"},"mark":{"type":"text","text":"Close","fontSize":11,"fontWeight":"bold","font":"Liberation Sans","align":"left","baseline":"alphabetic","color":"#000"},"encoding":{"x":{"value":556},"y":{"value":-3.5}}},
{"data":{"name":"one"},"mark":{"type":"text","text":"17.12","fontSize":11,"font":"Liberation Sans","align":"left","baseline":"alphabetic","color":"#000"},"encoding":{"x":{"value":591},"y":{"value":-3.5}}},
{"data":{"name":"one"},"mark":{"type":"text","text":"Volume","fontSize":11,"fontWeight":"bold","font":"Liberation Sans","align":"left","baseline":"alphabetic","color":"#000"},"encoding":{"x":{"value":624},"y":{"value":-3.5}}},
{"data":{"name":"one"},"mark":{"type":"text","text":"130.0M","fontSize":11,"font":"Liberation Sans","align":"left","baseline":"alphabetic","color":"#000"},"encoding":{"x":{"value":671},"y":{"value":-3.5}}},
{"data":{"name":"one"},"mark":{"type":"text","text":"Chg","fontSize":11,"fontWeight":"bold","font":"Liberation Sans","align":"left","baseline":"alphabetic","color":"#000"},"encoding":{"x":{"value":711},"y":{"value":-3.5}}},
{"data":{"name":"one"},"mark":{"type":"text","text":"-0.95 (-5.25%)","fontSize":11,"font":"Liberation Sans","align":"left","baseline":"alphabetic","color":"#000"},"encoding":{"x":{"value":736},"y":{"value":-3.5}}},
{"data":{"name":"one"},"mark":{"type":"text","text":"▼","fontSize":8,"font":"DejaVu Sans","align":"left","baseline":"alphabetic","color":"#c8102e"},"encoding":{"x":{"value":808},"y":{"value":-4.5}}},
{"data":{"name":"one"},"mark":{"type":"text","text":"$SILVER (Monthly) 17.12","fontSize":11,"font":"DejaVu Sans","align":"left","baseline":"middle","color":"#000"},"encoding":{"x":{"value":15},"y":{"value":6}}},
{"data":{"name":"one"},"mark":{"type":"rule","strokeWidth":2,"color":"#22228f"},"encoding":{"x":{"value":3},"x2":{"value":12},"y":{"value":17.5}}},
{"data":{"name":"one"},"mark":{"type":"text","text":"MA(50) 16.45","fontSize":9,"font":"DejaVu Sans","align":"left","baseline":"middle","color":"#22228f"},"encoding":{"x":{"value":13},"y":{"value":17.5}}},
{"data":{"name":"one"},"mark":{"type":"rule","strokeWidth":2,"color":"#dc143c"},"encoding":{"x":{"value":3},"x2":{"value":12},"y":{"value":28.5}}},
{"data":{"name":"one"},"mark":{"type":"text","text":"MA(200) 17.02","fontSize":9,"font":"DejaVu Sans","align":"left","baseline":"middle","color":"#dc143c"},"encoding":{"x":{"value":13},"y":{"value":28.5}}},
{"data":{"name":"one"},"mark":{"type":"rule","strokeWidth":2,"color":"#2e7d2e"},"encoding":{"x":{"value":3},"x2":{"value":12},"y":{"value":39.5}}},
{"data":{"name":"one"},"mark":{"type":"text","text":"MA(20) 15.83","fontSize":9,"font":"DejaVu Sans","align":"left","baseline":"middle","color":"#2e7d2e"},"encoding":{"x":{"value":13},"y":{"value":39.5}}},
{"data":{"name":"one"},"mark":{"type":"text","text":"Volume 130,033,400","fontSize":8.5,"font":"DejaVu Sans","align":"left","baseline":"middle","color":"#444"},"encoding":{"x":{"value":13},"y":{"value":50}}}
]
}
